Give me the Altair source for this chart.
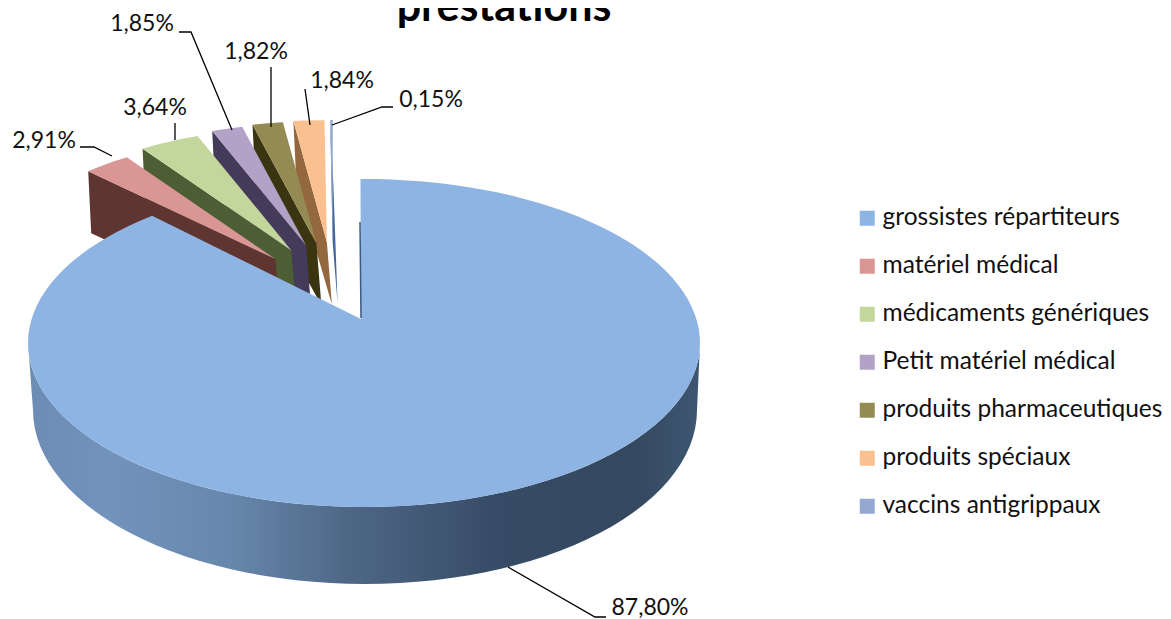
import math
import altair as alt
import pandas as pd

categories = ["grossistes répartiteurs", "matériel médical", "médicaments génériques",
              "Petit matériel médical", "produits pharmaceutiques", "produits spéciaux",
              "vaccins antigrippaux"]
shares = [87.80, 2.91, 3.64, 1.85, 1.82, 1.84, 0.15]
colors = ["#8EB4E3", "#D99694", "#C3D69B", "#B3A2C7", "#948A54", "#FAC090", "#95A9D0"]
face_colors = ["#3C5A80", "#5F3532", "#4D5E35", "#443A5A", "#3A3510", "#94683F", "#45689A"]
title_text = "prestations"

FONT = "Lato"
W, H = 1155, 611
x_scale = alt.Scale(domain=[8, 8 + W], nice=False, zero=False)
y_scale = alt.Scale(domain=[8 + H, 8], nice=False, zero=False)
X = alt.X("x:Q", scale=x_scale, axis=None)
Y = alt.Y("y:Q", scale=y_scale, axis=None)

# pie geometry (projection of the tilted disc)
TOP = dict(cx=364, cy=343, a=336, b=164)
BOTTOM = dict(cx=365, cy=410, a=332, b=174)
TIP = (361, 319)
SMALL = dict(cx=333, cy=320, ea=92, eb=78, a=270, b=122, depth=62)


def rim(e, deg):
    r = math.radians(deg)
    return e["cx"] + e["a"] * math.sin(r), e["cy"] - e["b"] * math.cos(r)


def warp(deg):
    return -0.6 + deg * 321.5 / 316.08


def frame(points):
    return pd.DataFrame([{"x": p[0], "y": p[1], "i": i} for i, p in enumerate(points)])


def poly(points, **mark):
    return alt.Chart(frame(points)).mark_line(strokeWidth=0, **mark).encode(
        x=X, y=Y, order=alt.Order("i:Q"))


def face(points, cat):
    df = frame(points)
    df["category"] = cat
    return alt.Chart(df).mark_line(strokeWidth=0).encode(
        x=X, y=Y, order=alt.Order("i:Q"),
        fill=alt.Fill("category:N", scale=alt.Scale(domain=categories, range=colors),
                      sort=categories,
                      legend=alt.Legend(title=None, orient="none", legendX=847, legendY=198,
                                        symbolType="square", symbolSize=225, symbolStrokeWidth=0,
                                        labelFont=FONT, labelFontSize=24.5, labelColor="#111111",
                                        labelOffset=3, rowPadding=23, labelLimit=400)))


layers = []
angle = sum(shares[:1]) / 100 * 360
spans = []
for k in range(1, len(shares)):
    spans.append((k, angle, angle + shares[k] / 100 * 360))
    angle += shares[k] / 100 * 360

# slices nearer to the viewer are painted last
for k, start, end in reversed(spans):
    mid = math.radians((start + end) / 2)
    ax = SMALL["cx"] + SMALL["ea"] * math.sin(mid)
    ay = SMALL["cy"] - SMALL["eb"] * math.cos(mid)
    ell = dict(cx=ax, cy=ay, a=SMALL["a"], b=SMALL["b"])
    s = rim(ell, start)
    arc = [rim(ell, start + (end - start) * j / 6) for j in range(7)]
    d = SMALL["depth"]
    layers.append(poly([s, (ax, ay), (ax + 5, ay + d), (s[0] + 3, s[1] + d)], fill=face_colors[k]))
    layers.append(face([(ax, ay)] + arc, categories[k]))

# side wall of the big slice
deg_side = list(range(90, 271, 3))
upper = [rim(TOP, t) for t in deg_side]
lower = [rim(BOTTOM, t) for t in reversed(deg_side)]
wall = alt.LinearGradient(gradient="linear", x1=0, x2=1, y1=0, y2=0, stops=[
    alt.GradientStop(offset=0, color="#6C8CB4"),
    alt.GradientStop(offset=0.12, color="#7193BC"),
    alt.GradientStop(offset=0.3, color="#6788AC"),
    alt.GradientStop(offset=0.47, color="#4F6888"),
    alt.GradientStop(offset=0.7, color="#364B65"),
    alt.GradientStop(offset=0.9, color="#34495F"),
    alt.GradientStop(offset=1, color="#3E5672"),
])
layers.append(poly(upper + lower, fill=wall))

# top of the big slice
end_big = shares[0] / 100 * 360
steps = 120
layers.append(face([TIP] + [rim(TOP, warp(end_big * j / steps)) for j in range(steps + 1)], categories[0]))

# thin cut edge
layers.append(alt.Chart(frame([(360, 222), (361, 318)])).mark_line(stroke=face_colors[0], strokeWidth=1.5)
              .encode(x=X, y=Y, order=alt.Order("i:Q")))

# leader lines and labels
leaders = [
    [(508, 567), (595, 617), (606, 617)],
    [(80, 147), (94, 147), (112, 156)],
    [(175, 123), (175, 140)],
    [(179, 32), (191, 32), (232, 130)],
    [(271, 67), (271, 127)],
    [(305, 89), (310, 125)],
    [(332, 125), (382, 107), (393, 107)],
]
label_pos = [(650, 608), (44, 141), (155, 108), (142, 24), (256, 52), (342, 81), (431, 100)]
for line in leaders:
    layers.append(alt.Chart(frame(line)).mark_line(stroke="black", strokeWidth=1.3)
                  .encode(x=X, y=Y, order=alt.Order("i:Q")))
labels = pd.DataFrame({
    "x": [p[0] for p in label_pos],
    "y": [p[1] for p in label_pos],
    "t": [f"{v:.2f}".replace(".", ",") + "%" for v in shares],
})
layers.append(alt.Chart(labels).mark_text(font=FONT, fontSize=23, color="#111111", align="center", baseline="middle")
              .encode(x=X, y=Y, text="t:N"))

title_df = pd.DataFrame({"x": [504], "y": [21], "t": [title_text]})
layers.append(alt.Chart(title_df).mark_text(font=FONT, fontSize=43, fontWeight="bold", color="black",
                                            align="center", baseline="alphabetic")
              .encode(x=X, y=Y, text="t:N"))

chart = alt.layer(*layers).properties(
    width=W, height=H, padding=0, autosize=alt.AutoSizeParams(type="none"),
).configure_view(stroke=None).resolve_scale(fill="shared")

chart.save("out.html", embed_options={"renderer": "svg", "actions": False})
